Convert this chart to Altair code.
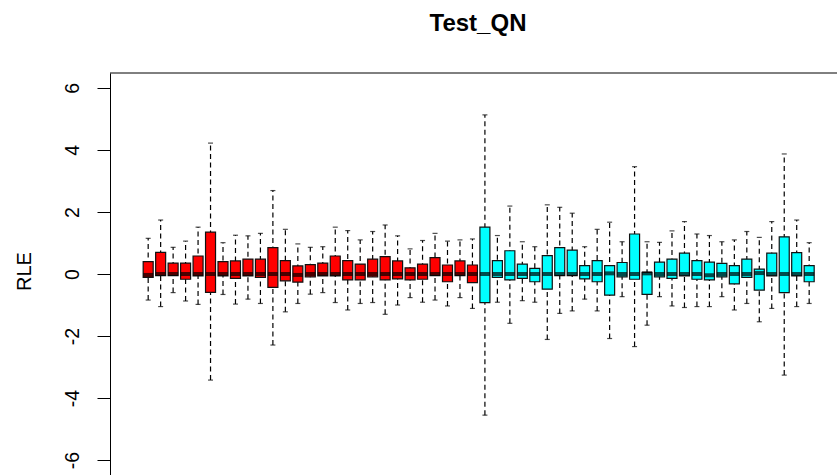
import altair as alt
import pandas as pd

# Per-sample RLE box statistics
samples = list(range(1, 55))
groups = ["A"] * 27 + ["B"] * 27
whisker_hi = [1.15, 1.74, 0.86, 1.06, 1.51, 4.22, 1.01, 1.25, 1.23, 1.31, 2.69, 1.44, 0.97, 0.86,
              0.88, 1.51, 1.40, 1.10, 1.37, 1.58, 1.23, 0.81, 1.08, 1.31, 1.06, 1.10, 1.13,
              5.13, 1.24, 2.19, 1.04, 0.88, 2.23, 2.15, 1.96, 0.88, 1.44, 1.67, 1.04, 3.46, 1.04,
              1.02, 1.39, 1.69, 1.29, 1.24, 1.04, 1.10, 1.37, 1.18, 1.69, 3.87, 1.74, 1.01]
q3 = [0.40, 0.70, 0.35, 0.35, 0.58, 1.35, 0.40, 0.42, 0.48, 0.48, 0.85, 0.43, 0.26, 0.30,
      0.35, 0.58, 0.43, 0.32, 0.48, 0.56, 0.42, 0.20, 0.32, 0.53, 0.29, 0.42, 0.29,
      1.51, 0.43, 0.75, 0.32, 0.18, 0.59, 0.85, 0.77, 0.27, 0.43, 0.27, 0.37, 1.29, 0.05,
      0.38, 0.48, 0.67, 0.43, 0.38, 0.34, 0.27, 0.48, 0.16, 0.67, 1.20, 0.69, 0.27]
median = [-0.03, 0.0, 0.0, 0.0, 0.0, 0.0, 0.0, 0.0, 0.0, 0.0, 0.0, 0.0, -0.03, 0.0,
          0.0, 0.0, 0.0, 0.0, 0.0, 0.0, 0.0, 0.0, 0.0, 0.0, 0.0, 0.0, 0.0,
          0.0, 0.0, 0.0, 0.0, 0.0, 0.0, 0.0, 0.0, 0.0, 0.0, 0.02, 0.0, 0.0, 0.02,
          0.0, 0.0, 0.0, 0.0, -0.04, 0.0, 0.0, 0.0, 0.03, 0.0, 0.0, 0.0, 0.0]
q1 = [-0.11, -0.05, -0.05, -0.17, -0.06, -0.59, -0.06, -0.14, -0.06, -0.11, -0.43, -0.22, -0.26, -0.09,
      -0.06, -0.06, -0.19, -0.19, -0.09, -0.19, -0.16, -0.19, -0.17, -0.05, -0.25, -0.05, -0.28,
      -0.92, -0.11, -0.19, -0.14, -0.25, -0.49, -0.05, -0.05, -0.16, -0.25, -0.68, -0.09, -0.17, -0.66,
      -0.09, -0.14, -0.06, -0.17, -0.19, -0.09, -0.32, -0.11, -0.52, -0.06, -0.60, -0.06, -0.25]
whisker_lo = [-0.84, -1.05, -0.60, -0.87, -0.98, -3.42, -0.66, -0.97, -0.81, -0.95, -2.29, -1.22, -0.95, -0.65,
              -0.60, -0.92, -1.16, -0.95, -0.92, -1.30, -1.00, -0.76, -0.91, -0.84, -1.03, -0.76, -1.11,
              -4.55, -0.91, -1.59, -0.86, -0.91, -2.11, -1.27, -1.19, -0.81, -1.19, -2.08, -0.73, -2.34, -1.65,
              -0.73, -1.03, -1.08, -1.05, -1.05, -0.73, -1.16, -0.95, -1.54, -1.11, -3.26, -1.05, -0.95]
y_ticks = [-6, -4, -2, 0, 2, 4, 6]
title_text = "Test_QN"
y_title = "RLE"

df = pd.DataFrame({
    "sample": samples, "group": groups, "hi": whisker_hi, "q3": q3,
    "med": median, "q1": q1, "lo": whisker_lo,
})

W, H = 727, 402
FONT = "Liberation Sans"

x = alt.X("sample:Q", scale=alt.Scale(domain=[-1.66, 55.83], nice=False, zero=False), axis=None)
yscale = alt.Scale(domain=[-6.48, 6.48], nice=False, zero=False)
yaxis = alt.Axis(values=y_ticks, tickSize=13, tickColor="black", tickWidth=1,
                 domainColor="black", domainWidth=1, grid=False,
                 labelExpr="'' + datum.value",
                 labelAngle=270, labelAlign="center", labelBaseline="alphabetic",
                 labelPadding=19, labelFontSize=19.5, labelFont=FONT, labelColor="black",
                 title=y_title, titleFont=FONT, titleFontSize=20, titleFontWeight="normal",
                 titleColor="black", titleAngle=270, titleAlign="center",
                 titleBaseline="alphabetic", titleX=-80, titleY=198)
color = alt.Color("group:N", scale=alt.Scale(domain=["A", "B"], range=["#FF0000", "#00FFFF"]), legend=None)

base = alt.Chart(df)

whiskers = base.mark_rule(color="black", strokeWidth=1.2, strokeDash=[5, 3.5]).encode(
    x=x, y=alt.Y("lo:Q", scale=yscale, axis=yaxis), y2="hi:Q")
staple_hi = base.mark_tick(orient="horizontal", size=5, thickness=1.2, color="black").encode(
    x=x, y=alt.Y("hi:Q", scale=yscale))
staple_lo = base.mark_tick(orient="horizontal", size=5, thickness=1.2, color="black").encode(
    x=x, y=alt.Y("lo:Q", scale=yscale))
boxes = base.mark_bar(size=10, stroke="#111111", strokeWidth=1.2, opacity=1).encode(
    x=x, y=alt.Y("q1:Q", scale=yscale), y2="q3:Q", fill=color)
medians = base.mark_tick(orient="horizontal", size=10, thickness=4, color="black").encode(
    x=x, y=alt.Y("med:Q", scale=yscale))

top_border = alt.Chart(pd.DataFrame({"a": [0]})).mark_rule(color="black", strokeWidth=1).encode(
    x=alt.value(0), x2=alt.value(W + 5), y=alt.value(0))
title = alt.Chart(pd.DataFrame({"t": [title_text]})).mark_text(
    font=FONT, fontSize=24, fontWeight="bold", align="center", baseline="alphabetic", color="black"
).encode(text="t:N", x=alt.value(368), y=alt.value(-42.5))

chart = alt.layer(whiskers, staple_hi, staple_lo, boxes, medians, top_border, title).properties(
    width=W, height=H,
    autosize=alt.AutoSizeParams(type="none"),
    padding={"left": 110, "top": 73, "right": 0, "bottom": 0},
    background="white",
).configure_view(stroke=None)

chart.save("out.html", embed_options={"renderer": "svg", "actions": False})
